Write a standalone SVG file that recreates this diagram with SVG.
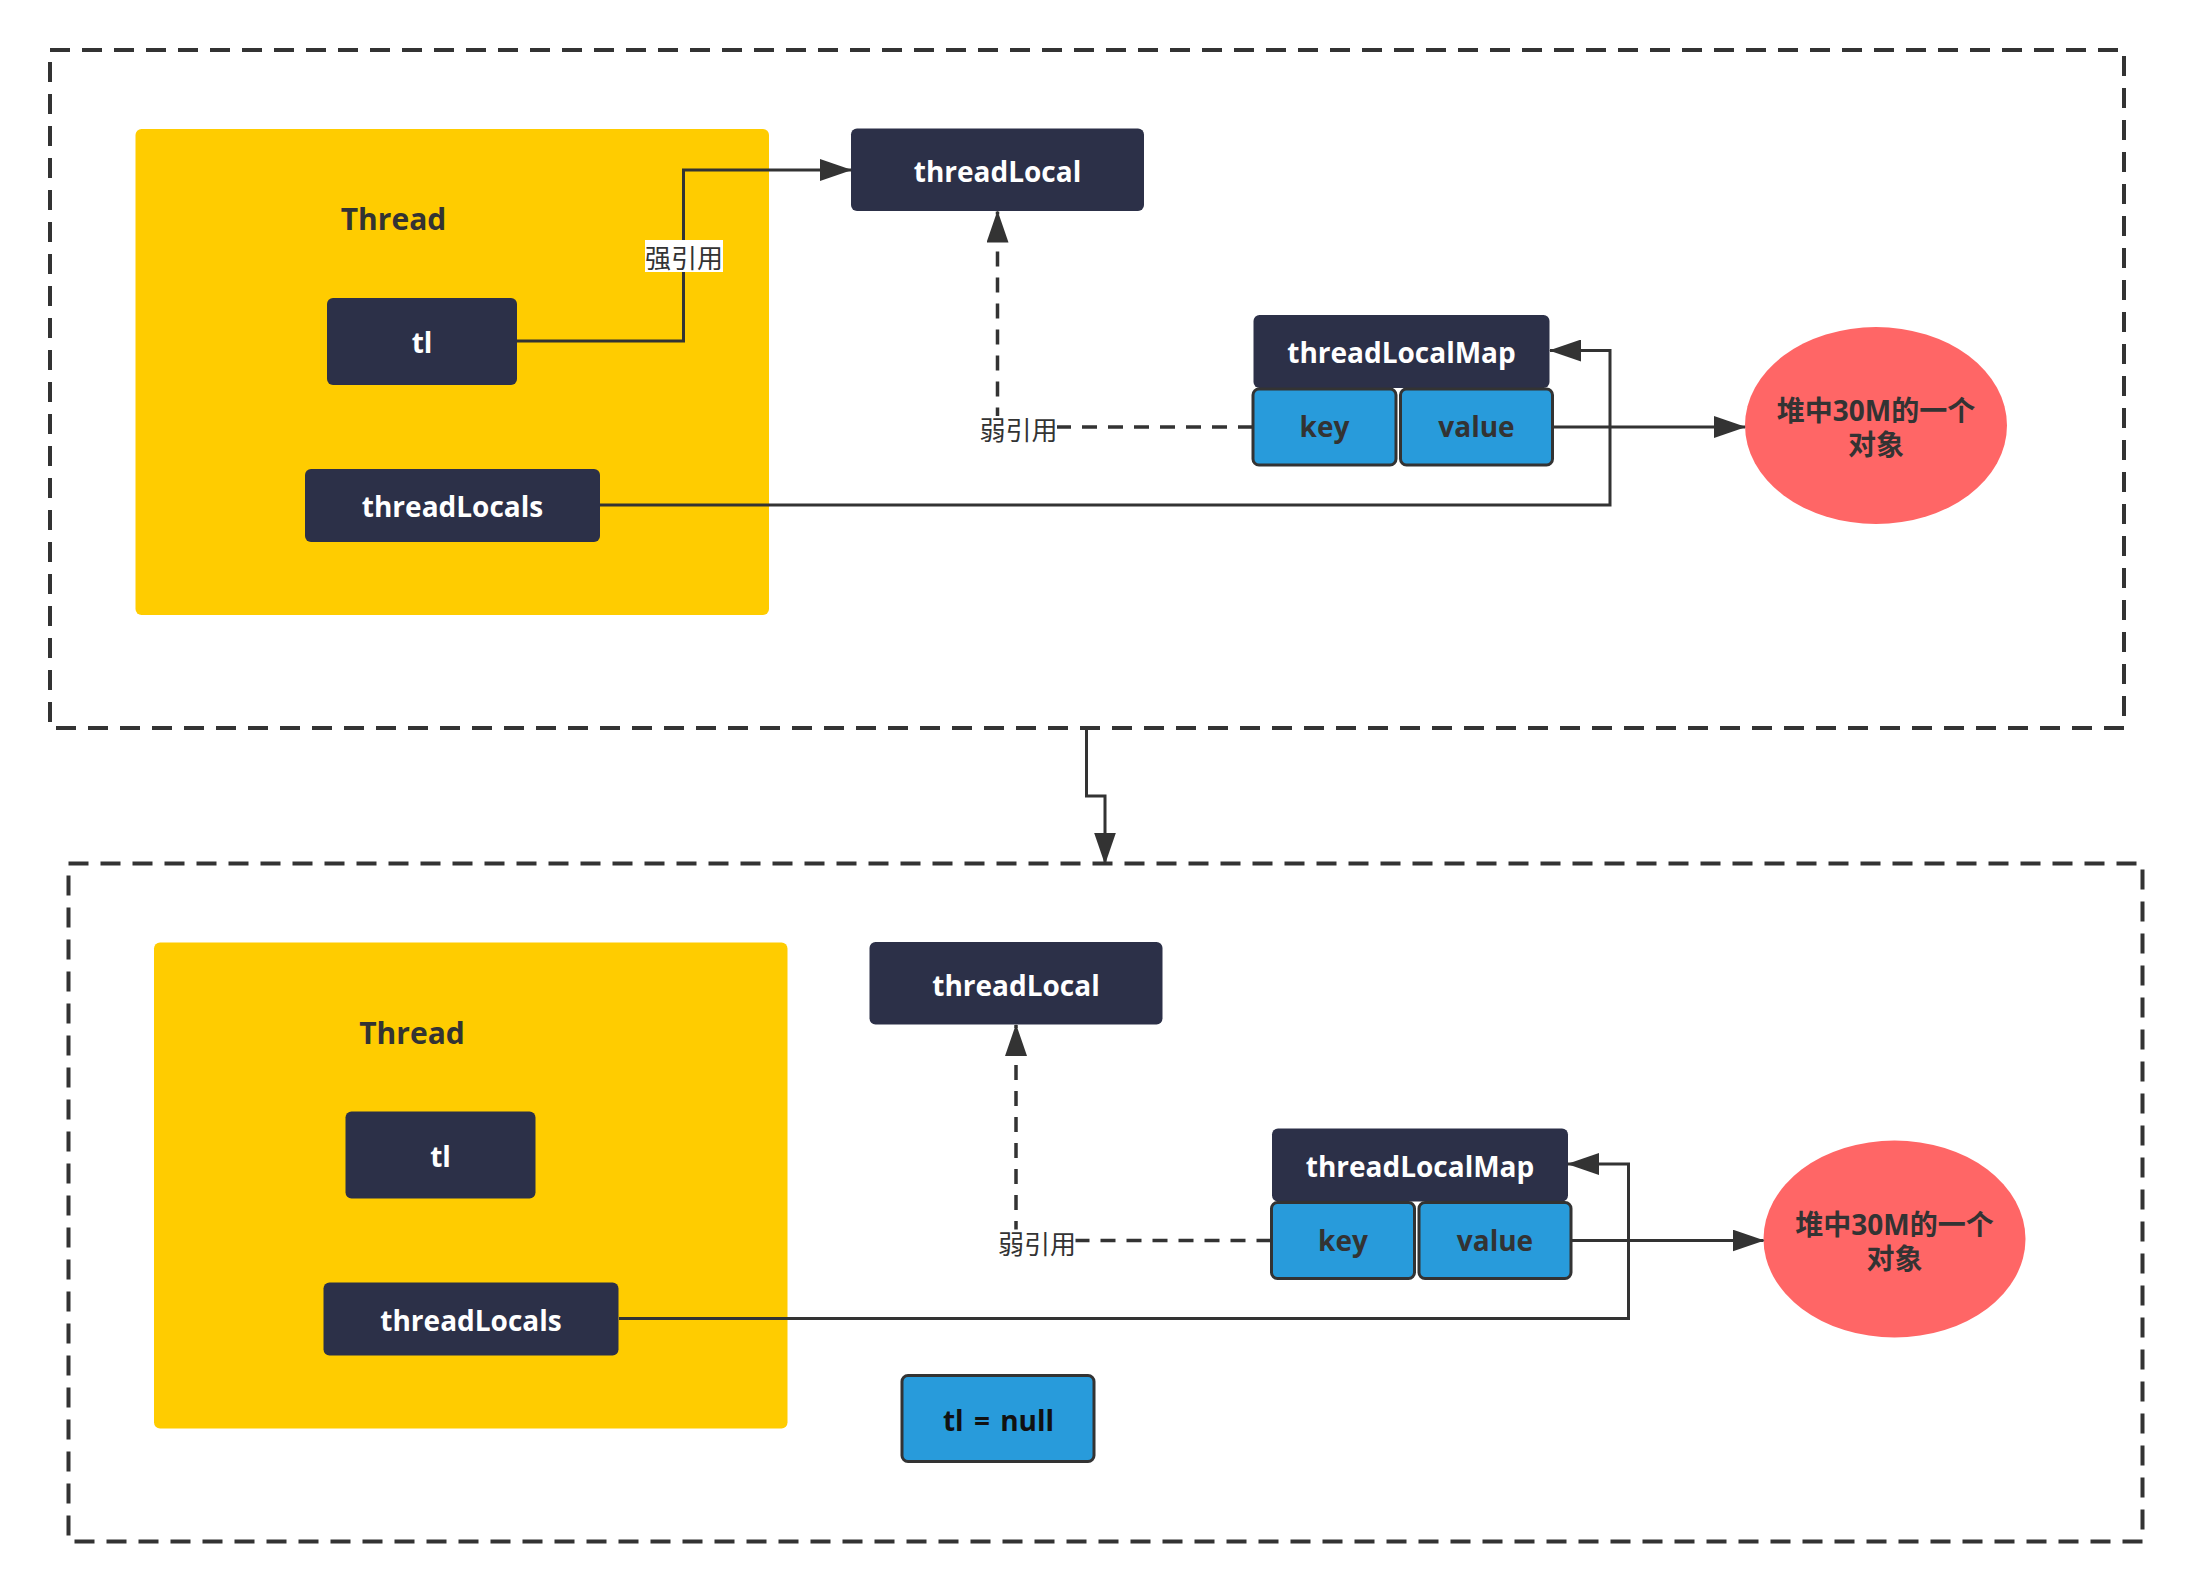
<svg xmlns="http://www.w3.org/2000/svg" width="2192" height="1593" viewBox="0 0 2192 1593">
<defs>
<style>
.panel{fill:none;stroke:#333;stroke-width:4;stroke-dasharray:20 12}
.thread{fill:#FFCC00}
.dark{fill:#2C3048}
.blue{fill:#289BDB;stroke:#333;stroke-width:3}
.obj{fill:#FF6666}
.t{font-family:"Open Sans","Noto Sans CJK SC",sans-serif;font-weight:700;font-size:28px;text-anchor:middle}
.big{font-size:30px}
.w{fill:#fff}
.k{fill:#333}
.lbl{font-family:"Noto Sans CJK SC",sans-serif;font-weight:400;font-size:26px;fill:#333;text-anchor:middle}
.edge{fill:none;stroke:#333;stroke-width:3}
.dash{stroke-width:3.5;stroke-dasharray:15 11}
</style>
<marker id="arr" markerUnits="userSpaceOnUse" viewBox="0 0 32 22" refX="31" refY="11" markerWidth="32" markerHeight="22" orient="auto">
<path d="M0,0 L32,11 L0,22 Z" fill="#333"/>
</marker>
</defs>
<rect width="2192" height="1593" fill="#fff"/>

<g id="panel-top"><rect class="panel" x="50" y="50" width="2074" height="678"/></g>
<g id="panel-bottom"><rect class="panel" x="68.5" y="863.5" width="2074" height="678"/></g>

<g id="thread1"><rect class="thread" x="135.5" y="129" width="633.5" height="486" rx="6"/><text class="t k big" x="393.5" y="230">Thread</text></g>
<g id="tl1"><rect class="dark" x="327" y="298" width="190" height="87" rx="6"/><text class="t w" x="422" y="353">tl</text></g>
<g id="threadLocals1"><rect class="dark" x="305" y="469" width="295" height="73" rx="6"/><text class="t w" x="452.5" y="517">threadLocals</text></g>
<g id="threadLocal1"><rect class="dark" x="851" y="128.5" width="293" height="82.5" rx="6"/><text class="t w" x="997.5" y="182">threadLocal</text></g>
<g id="map1"><rect class="dark" x="1253.5" y="315" width="296" height="73" rx="6"/><text class="t w" x="1401.5" y="363">threadLocalMap</text></g>
<g id="key1"><rect class="blue" x="1253" y="389" width="143" height="76" rx="6"/><text class="t k" x="1324.5" y="437">key</text></g>
<g id="value1"><rect class="blue" x="1400.5" y="389" width="152" height="76" rx="6"/><text class="t k" x="1476.5" y="437">value</text></g>
<g id="obj1"><ellipse class="obj" cx="1876" cy="425.5" rx="131" ry="98.5"/><text class="t k" x="1876" y="421">堆中30M的一个</text><text class="t k" x="1876" y="455">对象</text></g>

<g id="thread2"><rect class="thread" x="154" y="942.5" width="633.5" height="486" rx="6"/><text class="t k big" x="412" y="1043.5">Thread</text></g>
<g id="tl2"><rect class="dark" x="345.5" y="1111.5" width="190" height="87" rx="6"/><text class="t w" x="440.5" y="1166.5">tl</text></g>
<g id="threadLocals2"><rect class="dark" x="323.5" y="1282.5" width="295" height="73" rx="6"/><text class="t w" x="471" y="1330.5">threadLocals</text></g>
<g id="threadLocal2"><rect class="dark" x="869.5" y="942" width="293" height="82.5" rx="6"/><text class="t w" x="1016" y="995.5">threadLocal</text></g>
<g id="map2"><rect class="dark" x="1272" y="1128.5" width="296" height="73" rx="6"/><text class="t w" x="1420" y="1176.5">threadLocalMap</text></g>
<g id="key2"><rect class="blue" x="1271.5" y="1202.5" width="143" height="76" rx="6"/><text class="t k" x="1343" y="1250.5">key</text></g>
<g id="value2"><rect class="blue" x="1419" y="1202.5" width="152" height="76" rx="6"/><text class="t k" x="1495" y="1250.5">value</text></g>
<g id="obj2"><ellipse class="obj" cx="1894.5" cy="1239" rx="131" ry="98.5"/><text class="t k" x="1894.5" y="1234.5">堆中30M的一个</text><text class="t k" x="1894.5" y="1268.5">对象</text></g>
<g id="tlnull"><rect class="blue" x="902" y="1375.5" width="192" height="86" rx="6"/><text class="t" fill="#111" word-spacing="3" x="998.5" y="1431">tl = null</text></g>

<g id="connectors">
<path class="edge" d="M517,341 H683.5 V170 H851" marker-end="url(#arr)"/>
<rect x="645" y="240" width="78" height="32" fill="#fff"/>
<text class="lbl" x="684" y="268">强引用</text>
<path class="edge dash" d="M1253,427 H997.5 V211.5" marker-end="url(#arr)"/>
<rect x="980" y="416" width="77" height="28" fill="#fff"/>
<text class="lbl" x="1018.5" y="440">弱引用</text>
<path class="edge" d="M600,505 H1610 V350.5 H1550" marker-end="url(#arr)"/>
<path class="edge" d="M1553,427 H1745" marker-end="url(#arr)"/>
<path class="edge" d="M1086.5,728 V796 H1105 V863.5" marker-end="url(#arr)"/>
<path class="edge dash" d="M1271.5,1240.5 H1016 V1025" marker-end="url(#arr)"/>
<rect x="998.5" y="1229.5" width="77" height="28" fill="#fff"/>
<text class="lbl" x="1037" y="1253.5">弱引用</text>
<path class="edge" d="M619,1318.5 H1628.5 V1164 H1568" marker-end="url(#arr)"/>
<path class="edge" d="M1571.5,1240.5 H1763.5" marker-end="url(#arr)"/>
</g>
</svg>
